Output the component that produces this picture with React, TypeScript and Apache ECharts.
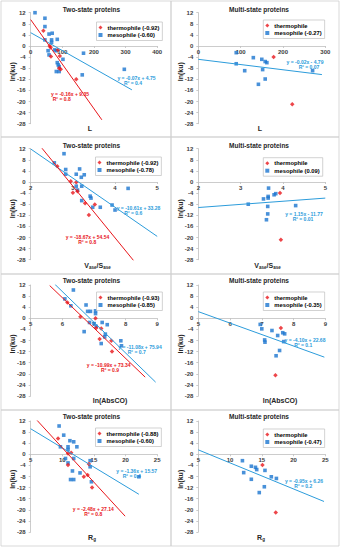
import React, { useEffect, useRef } from 'react';
import * as echarts from 'echarts';

// ---------- data ----------
// Panel A: L, two-state
const L_two_thermo = [[40, 5.5], [60, 0], [63, -0.5], [64, -3.8], [86, -1.4], [92, -3.6], [90, -8], [95, -8.4], [144, -12]];
const L_two_meso = [[13.6, 12], [45, 10], [45, 7], [45, 2.2], [58, 4.3], [68, 4.6], [66, 2.2], [66, 1.3], [84, 2.4], [55, -1.7], [58, -3.2], [76, -1.4], [81, -1.7], [84, -6], [87, -6.8], [90, -7.4], [81, -9.2], [90, -9.2], [102, -4.8], [167, -2.6], [163, -10.4], [296, -8.4]];
const L_two_thermo_trend = [[0, 9.5], [225, -26.6]];
const L_two_meso_trend = [[0, 4.8], [320, -15.8]];
// Panel B: L, multi-state
const L_multi_thermo = [[178, -4.0], [222, -21]];
const L_multi_meso = [[89.6, -2.4], [89.6, -6.4], [109.6, -8.9], [130, -4.2], [150, -4.8], [158, -5.6], [162, -6], [152, -8.5], [158, -11.9], [142, -13.8], [270, -8.9]];
const L_multi_meso_trend = [[0, -4.8], [292, -10.3]];
// Panel C: Vasa/Sasa, two-state
const V_two_thermo = [[2.63, 5.7], [2.95, 0.3], [3.08, -0.1], [3.0, -3.9], [3.11, -3.3], [3.29, -7.7], [3.52, -8.1], [3.38, -11.9]];
const V_two_meso = [[2.26, 12.2], [2.79, 10.2], [2.56, 6.9], [2.83, 4.5], [2.83, 2.8], [3.08, 2.8], [3.16, 4.7], [3.27, 2.6], [3.2, 1.7], [3.08, -1.5], [3.11, -2.9], [3.21, -1.5], [3.21, -6.7], [3.41, -5.1], [3.43, -5.8], [3.47, -9.1], [3.65, -9.1], [3.93, -8.3], [4.0, -10.1], [4.31, -2.3]];
const V_two_thermo_trend = [[2.25, 12.5], [4.45, -28.5]];
const V_two_meso_trend = [[2, 11.9], [5, -19.6]];
// Panel D: Vasa/Sasa, multi-state
const V_multi_thermo = [[3.93, -4.0], [3.95, -20.8]];
const V_multi_meso = [[3.18, -8.0], [3.54, -6.1], [3.66, -2.2], [3.65, -5.2], [3.65, -5.8], [3.64, -8.8], [3.64, -11.5], [3.61, -13.6], [3.79, -4.6], [3.83, -4.2], [4.3, -8.5]];
const V_multi_meso_trend = [[2, -9.2], [5, -5.8]];
// Panel E: ln(AbsCO), two-state
const A_two_thermo = [[6.16, 5.7], [6.57, 0.6], [7.05, 0], [7.07, -3.5], [7.23, -3.7], [7.18, -7.5], [7.55, -8.1], [7.57, -12]];
const A_two_meso = [[6.0, 12.4], [6.35, 10.2], [6.08, 7.0], [6.27, 4.5], [6.75, 4.8], [6.8, 2.5], [6.89, 2.5], [7.05, 2.7], [7.05, 1.7], [6.69, -4.8], [6.86, -1.5], [7.0, -1.9], [7.07, -2.9], [7.26, -1.5], [7.42, -2.3], [7.23, -9.1], [7.34, -6.7], [7.36, -5.7], [7.85, -8.1], [7.87, -9.9]];
const A_two_thermo_trend = [[5.6, 11.8], [8.62, -21.2]];
const A_two_meso_trend = [[5.76, 12.3], [8.95, -23.0]];
// Panel F: ln(AbsCO), multi-state
const A_multi_thermo = [[7.6, -3.5], [7.43, -20.5]];
const A_multi_meso = [[6.95, -2.2], [7.0, -3.8], [7.09, -7.8], [7.1, -8.6], [7.32, -4.4], [7.5, -6.2], [7.56, -11.6], [7.45, -13.5], [7.66, -5.2], [7.72, -5.6], [7.69, -8.4]];
const A_multi_meso_trend = [[5, 2.4], [8.97, -14.0]];
// Panel G: Rg, two-state
const R_two_thermo = [[9.33, 5.7], [10.9, 0.3], [11.4, 0.6], [10.9, -3.9], [13.4, -8.1], [14.0, -7.5], [14.2, -3.5], [14.7, -12]];
const R_two_meso = [[8.13, 12.4], [9.49, 10.2], [10.22, 6.9], [9.7, 2.7], [10.9, 2.7], [11.2, 4.9], [11.8, 4.5], [12.3, 2.7], [10.9, 1.7], [10.5, -1.5], [11.8, -1.5], [10.9, -3.1], [11.6, -6], [11.3, -9.1], [11.8, -9.1], [12.8, -6.7], [14.4, -2.3], [14.4, -4.5], [14.6, -9.9], [22.1, -8.1]];
const R_two_thermo_trend = [[5.94, 12.4], [19.93, -22.3]];
const R_two_meso_trend = [[5, 9.2], [22.1, -14.4]];
// Panel H: Rg, multi-state
const R_multi_thermo = [[15.1, -3.9], [17.2, -21]];
const R_multi_meso = [[11.95, -2.3], [12.15, -6.6], [13.35, -4.3], [13.35, -9.0], [14.0, -4.7], [14.2, -5.5], [15.5, -5.8], [16.5, -8.1], [17.3, -8.7], [15.4, -11.7], [14.6, -13.8]];
const R_multi_meso_trend = [[5, 1.6], [24.8, -17.0]];

const Y_RANGE = [-28, 12, 4];
const titles = ['Two-state proteins', 'Multi-state proteins'];
const thermoNames = ['thermophile (-0.92)', 'thermophile', 'thermophile (-0.92)', 'thermophile', 'thermophile (-0.93)', 'thermophile', 'thermophile (-0.88)', 'thermophile'];
const mesoNames = ['mesophile (-0.60)', 'mesophile (-0.27)', 'mesophile (-0.78)', 'mesophile (0.09)', 'mesophile (-0.85)', 'mesophile (-0.35)', 'mesophile (-0.60)', 'mesophile (-0.47)'];
const thermoEq = ['y = -0.16x + 9.35', '', 'y = -18.67x + 54.54', '', 'y = -10.99x + 73.34', '', 'y = -2.48x + 27.14', ''];
const thermoR2 = ['R² = 0.8', '', 'R² = 0.8', '', 'R² = 0.9', '', 'R² = 0.8', ''];
const mesoEq = ['y = -0.07x + 4.75', 'y = -0.02x - 4.79', 'y = -10.61x + 33.28', 'y = 1.15x - 11.77', 'y = -11.08x + 75.94', 'y = -4.10x + 22.68', 'y = -1.36x + 15.57', 'y = -0.95x + 6.26'];
const mesoR2 = ['R² = 0.4', 'R² = 0.07', 'R² = 0.6', 'R² = 0.01', 'R² = 0.7', 'R² = 0.1', 'R² = 0.4', 'R² = 0.2'];
const xRanges = [[0, 400, 100], [0, 300, 100], [2, 5, 1], [2, 5, 1], [5, 9, 1], [5, 9, 1], [5, 25, 5], [5, 25, 5]];

const thermoData = [L_two_thermo, L_multi_thermo, V_two_thermo, V_multi_thermo, A_two_thermo, A_multi_thermo, R_two_thermo, R_multi_thermo];
const mesoData = [L_two_meso, L_multi_meso, V_two_meso, V_multi_meso, A_two_meso, A_multi_meso, R_two_meso, R_multi_meso];
const thermoTrends = [L_two_thermo_trend, null, V_two_thermo_trend, null, A_two_thermo_trend, null, R_two_thermo_trend, null];
const mesoTrends = [L_two_meso_trend, L_multi_meso_trend, V_two_meso_trend, V_multi_meso_trend, A_two_meso_trend, A_multi_meso_trend, R_two_meso_trend, R_multi_meso_trend];

// ---------- layout ----------
const ROW_TOP = [0, 137, 274, 410];
const GRID_TOP = [12.7, 148.7, 285, 421];
const GRID_H = 111;
const COL_LEFT = [30.7, 198.3];
const COL_W = [126.5, 127];
const TITLE_Y = [9.3, 145.3, 280.7, 416.8];
const TITLE_X = [91.5, 259];
const YNAME_X = [12, 180];
const YNAME_Y = [71.7, 208.7, 344, 479.3];
const XNAME_POS = [[90, 128.3], [260, 128.3], [97.5, 265.3], [267.5, 265.3], [110, 400], [280, 400], [92, 537], [261, 537]];
const LEGEND_POS = [[96.5, 22], [263.3, 20], [95.5, 157], [263.3, 157.7], [96.5, 292], [263.3, 292], [95.5, 428], [263.3, 429]];
const MESO_EQ_POS = [[136.5, 78], [305, 61.5], [138.5, 207.5], [304, 213.5], [140, 346.5], [305, 340], [136.7, 471], [304, 481]];
const MESO_R2_X = [133, 309, 133.3, 303, 136.7, 303.3, 131.7, 303.3];
const THERMO_EQ_POS = [[70, 94], null, [87.5, 236.5], null, [108.7, 364.5], null, [93.3, 509], null];
const THERMO_R2_X = [61.7, 0, 87.3, 0, 110, 0, 93.3, 0];
const R2_GAP = 5.4;

const RED = '#E8161B';
const SQUARE_BLUE = '#1C75CF';
const LINE_BLUE = '#2C9CDB';
const FONT = 'Liberation Sans, Arial, sans-serif';

function buildOption() {
  const grid: any[] = [];
  const xAxis: any[] = [];
  const yAxis: any[] = [];
  const series: any[] = [];
  const legend: any[] = [];
  const graphic: any[] = [];

  // distance from the zero line to the bottom of the plot area
  const zeroFromBottom = GRID_H * (0 - Y_RANGE[0]) / (Y_RANGE[1] - Y_RANGE[0]);

  for (let i = 0; i < 8; i++) {
    const row = Math.floor(i / 2);
    const col = i % 2;
    grid.push({ left: COL_LEFT[col], top: GRID_TOP[row], width: COL_W[col], height: GRID_H });
    const [xmin, xmax, xint] = xRanges[i];
    const lineStyle = { color: '#bfbfbf', width: 0.8 };
    xAxis.push({
      type: 'value', gridIndex: i, min: xmin, max: xmax, interval: xint,
      position: 'bottom', offset: -zeroFromBottom,
      axisLine: { show: true, onZero: false, lineStyle },
      axisTick: { show: true, length: 2, lineStyle },
      splitLine: { show: false },
      axisLabel: { fontSize: 6, fontWeight: 'bold', color: '#404040', margin: 3, fontFamily: FONT, showMinLabel: true, showMaxLabel: true },
    });
    yAxis.push({
      type: 'value', gridIndex: i, min: Y_RANGE[0], max: Y_RANGE[1], interval: Y_RANGE[2],
      position: 'left',
      axisLine: { show: true, onZero: false, lineStyle },
      axisTick: { show: true, length: 2, lineStyle },
      splitLine: { show: false },
      axisLabel: { fontSize: 6, fontWeight: 'bold', color: '#404040', margin: 5, fontFamily: FONT },
    });

    series.push({
      type: 'scatter', name: mesoNames[i], xAxisIndex: i, yAxisIndex: i,
      data: mesoData[i], symbol: 'rect', symbolSize: 3.6,
      itemStyle: { color: SQUARE_BLUE },
    });
    series.push({
      type: 'scatter', name: thermoNames[i], xAxisIndex: i, yAxisIndex: i,
      data: thermoData[i], symbol: 'diamond', symbolSize: 4.5,
      itemStyle: { color: RED },
    });
    series.push({
      type: 'line', name: 'trend-m-' + i, xAxisIndex: i, yAxisIndex: i,
      data: mesoTrends[i], symbol: 'none', lineStyle: { color: LINE_BLUE, width: 1 }, silent: true,
    });
    const tt = thermoTrends[i];
    if (tt) {
      series.push({
        type: 'line', name: 'trend-t-' + i, xAxisIndex: i, yAxisIndex: i,
        data: tt, symbol: 'none', lineStyle: { color: RED, width: 1 }, silent: true,
      });
    }

    legend.push({
      data: [thermoNames[i], mesoNames[i]],
      orient: 'vertical', left: LEGEND_POS[i][0], top: LEGEND_POS[i][1],
      itemWidth: 4, itemHeight: 4, itemGap: 1.5, padding: [2.5, 3, 2.5, 2],
      borderColor: '#bfbfbf', borderWidth: 0.7, backgroundColor: '#fff',
      selectedMode: false,
      textStyle: { fontSize: 5.8, color: '#000', fontFamily: FONT, fontWeight: 'bold' },
    });

    // panel border
    graphic.push({
      type: 'rect', silent: true,
      shape: { x: col === 0 ? 1 : 171, y: ROW_TOP[row] + (row === 0 ? 1 : 0), width: col === 0 ? 170 : 168, height: row === 0 ? 136 : (ROW_TOP[row + 1] ?? 546) - ROW_TOP[row] },
      style: { fill: 'none', stroke: '#cfcfcf', lineWidth: 0.8 },
      z: -1,
    });
    // title
    graphic.push({
      type: 'text', x: TITLE_X[col], y: TITLE_Y[row], silent: true,
      style: { text: titles[col], fill: '#262626', fontSize: 6.5, fontWeight: 'bold', fontFamily: FONT, align: 'center', verticalAlign: 'middle', textAlign: 'center', textVerticalAlign: 'middle' },
    });
    // y-axis name
    graphic.push({
      type: 'text', x: YNAME_X[col], y: YNAME_Y[row], rotation: Math.PI / 2, silent: true,
      style: { text: 'ln(ku)', fill: '#262626', fontSize: 7, fontWeight: 'bold', fontFamily: FONT, align: 'center', verticalAlign: 'middle', textAlign: 'center', textVerticalAlign: 'middle' },
    });
    // x-axis name
    const xnameTexts = ['L', 'V{s|ase}/S{s|ase}', 'ln(AbsCO)', 'R{s|g}'];
    graphic.push({
      type: 'text', x: XNAME_POS[i][0], y: XNAME_POS[i][1], silent: true,
      style: {
        text: xnameTexts[row], fill: '#262626', fontSize: 7, fontWeight: 'bold', fontFamily: FONT, lineHeight: 10,
        align: 'center', verticalAlign: 'middle', textAlign: 'center', textVerticalAlign: 'middle',
        rich: { s: { fontSize: 4.5, fontWeight: 'bold', fontFamily: FONT, fill: '#262626', verticalAlign: 'bottom', lineHeight: 5 } },
      },
    });
    // trend labels
    const txt = (s: string, x: number, y: number, color: string) => {
      graphic.push({
        type: 'text', x, y, silent: true,
        style: { text: s, fill: color, fontSize: 5, fontWeight: 'bold', fontFamily: FONT, align: 'center', verticalAlign: 'middle', textAlign: 'center', textVerticalAlign: 'middle' },
      });
    };
    const mp = MESO_EQ_POS[i];
    txt(mesoEq[i], mp[0], mp[1], LINE_BLUE);
    txt(mesoR2[i], MESO_R2_X[i], mp[1] + R2_GAP, LINE_BLUE);
    const tp = THERMO_EQ_POS[i];
    if (tp && thermoEq[i]) {
      txt(thermoEq[i], tp[0], tp[1], RED);
      txt(thermoR2[i], THERMO_R2_X[i], tp[1] + R2_GAP, RED);
    }
  }

  return {
    animation: false,
    backgroundColor: '#fff',
    textStyle: { fontFamily: FONT },
    grid, xAxis, yAxis, series, legend, graphic,
  };
}

export default function App() {
  const ref = useRef<HTMLDivElement>(null);
  useEffect(() => {
    if (!ref.current) return;
    const chart = echarts.init(ref.current, undefined, { renderer: 'svg' });
    chart.setOption(buildOption() as any);
    return () => chart.dispose();
  }, []);
  return <div ref={ref} style={{ position: 'absolute', left: 0, top: 0, width: 341, height: 550 }} />;
}
